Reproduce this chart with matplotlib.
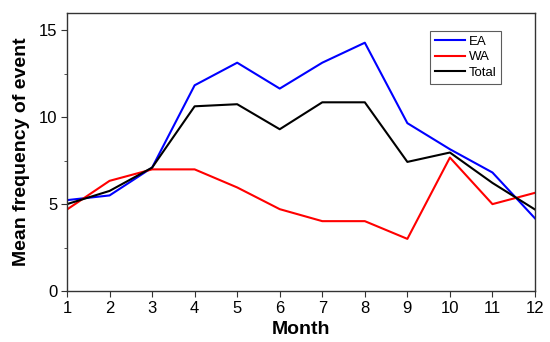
import matplotlib
matplotlib.use("Agg")
import matplotlib.pyplot as plt
from matplotlib.ticker import MultipleLocator

plt.rcParams['font.family'] = ['Liberation Sans', 'DejaVu Sans']

months = list(range(1, 13))
ea = [5.23, 5.5, 7.1, 11.84, 13.14, 11.65, 13.14, 14.29, 9.66, 8.16, 6.82, 4.18]
wa = [4.69, 6.34, 7.0, 7.0, 5.96, 4.71, 4.02, 4.02, 3.0, 7.68, 5.0, 5.65]
total = [5.0, 5.76, 7.1, 10.63, 10.75, 9.31, 10.86, 10.86, 7.43, 7.97, 6.22, 4.69]

fig = plt.figure(figsize=(5.5, 3.42), dpi=100)
ax = fig.add_axes([67/550, 1-291/342, (535-67)/550, (291-13)/342])

ax.plot(months, ea, color='#0000ff', lw=1.5, label='EA')
ax.plot(months, wa, color='#ff0000', lw=1.5, label='WA')
ax.plot(months, total, color='black', lw=1.5, label='Total')

ax.set_xlim(1, 12)
ax.set_ylim(0, 16)
ax.set_xticks(months)
ax.yaxis.set_major_locator(MultipleLocator(5))
ax.yaxis.set_minor_locator(MultipleLocator(2.5))
ax.tick_params(axis='both', which='major', direction='out', length=4, labelsize=12, color='#333333', pad=3)
ax.tick_params(axis='y', which='minor', direction='out', length=2.5, color='#333333')
for s in ax.spines.values():
    s.set_color('#333333')
    s.set_linewidth(1.0)

ax.set_xlabel('Month', fontsize=14, fontweight='bold', labelpad=4)
ax.set_ylabel('Mean frequency of event', fontsize=14, fontweight='bold', labelpad=6)

leg = ax.legend(loc='upper left', bbox_to_anchor=((430-67)/468, (291-31)/278),
                fontsize=9.5, frameon=True, fancybox=False, handlelength=2.3,
                borderpad=0.35, labelspacing=0.25, handletextpad=0.3, borderaxespad=0)
leg.get_frame().set_edgecolor('#333333')
leg.get_frame().set_linewidth(0.8)

fig.savefig('out.png', dpi=100)
